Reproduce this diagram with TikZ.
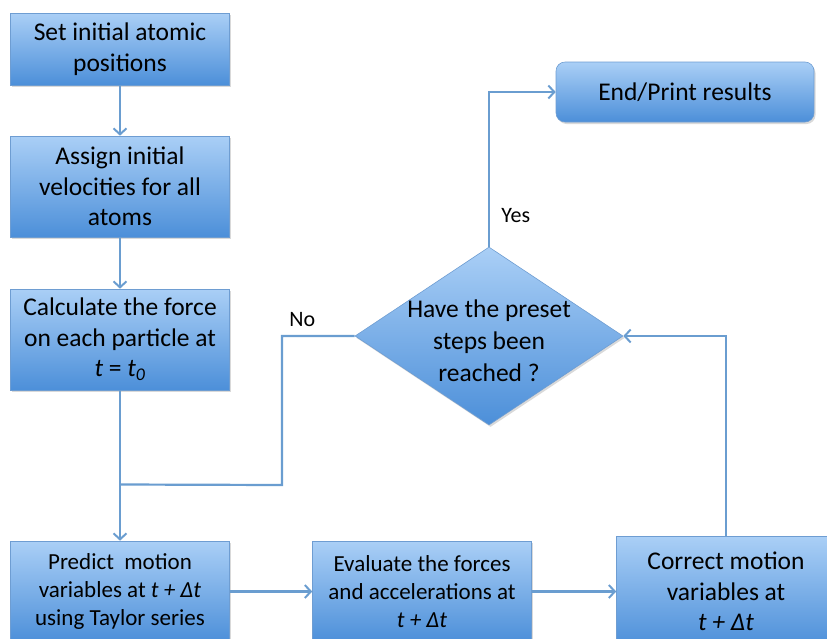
\documentclass[tikz,border=0pt]{standalone}
\usepackage{fontspec}
\setmainfont{Carlito}
\usetikzlibrary{arrows.meta,positioning,shapes.geometric,shadows}
\definecolor{boxtop}{HTML}{AACFF6}
\definecolor{boxbot}{HTML}{4C8FD9}
\definecolor{boxline}{HTML}{6E9DD2}
\definecolor{flowc}{HTML}{6A9DD0}
\tikzset{
  proc/.style={rectangle, draw=boxline, line width=0.6pt, top color=boxtop, bottom color=boxbot,
    minimum width=219pt, minimum height=101pt, align=center, inner sep=0pt,
    drop shadow={shadow xshift=1.5pt, shadow yshift=-2pt, opacity=0.3},
    font=\fontsize{25.5}{30.5}\selectfont},
  flow/.style={draw=flowc, line width=2.2pt, -{Straight Barb[length=6pt,width=13pt,line width=2pt]}},
  wire/.style={draw=flowc, line width=2.2pt}
}
\begin{document}
\begin{tikzpicture}[x=1pt,y=-1pt,node distance=140pt,on grid]
  \useasboundingbox (0,0) rectangle (827,638);
  \clip (0,0) rectangle (827,638);
  \node[proc, minimum height=72pt] (setpos) at (120,49) {Set initial atomic\\positions};
  \node[proc] (assign) [below=137.5pt of setpos] {Assign initial\\velocities for all\\atoms};
  \node[proc] (calc) [below=153pt of assign] {Calculate the force\\on each particle at\\\textit{t} = \textit{t\textsubscript{0}}};
  \node[proc, font=\fontsize{23}{28}\selectfont] (predict) [below=252pt of calc] {Predict\ \ motion\\variables at \textit{t + Δt}\\using Taylor series};
  \node[proc, font=\fontsize{23}{28}\selectfont] (evaluate) [right=302pt of predict] {Evaluate the forces\\and accelerations at\\\textit{t + Δt}};
  \node[proc, minimum height=110pt] (correct) [right=304pt of evaluate] {Correct motion\\variables at\\\textit{t + Δt}};
  \node[diamond, draw=boxline, line width=0.6pt, top color=boxtop, bottom color=boxbot,
    minimum width=268pt, minimum height=178pt, inner sep=0pt,
    drop shadow={shadow xshift=1.5pt, shadow yshift=-2pt, opacity=0.3},
    label={[align=center, yshift=-5pt, font=\fontsize{25.5}{32}\selectfont]center:Have the preset\\steps been\\reached ?}] (check) at (489,336) {};
  \node[proc, rounded corners=9pt, minimum width=258pt, minimum height=60pt] (finish) at (685,92) {End/Print results};
  \coordinate[below=145pt of calc] (merge);
  \coordinate (nocorner) at (282,485);
  \path[flow]
    (setpos) edge (assign)
    (assign) edge (calc)
    (calc) edge (predict)
    (predict) edge (evaluate)
    (evaluate) edge (correct);
  \draw[flow] (correct.north) |- (check.east);
  \draw[flow] (check.north) |- node[pos=0.1, right=8pt, font=\fontsize{22}{24}\selectfont] {Yes} (finish.west);
  \draw[wire] (check.west) -| node[pos=0.36, above=5pt, font=\fontsize{22}{24}\selectfont] {No} (nocorner) -- (merge);
\end{tikzpicture}
\end{document}
